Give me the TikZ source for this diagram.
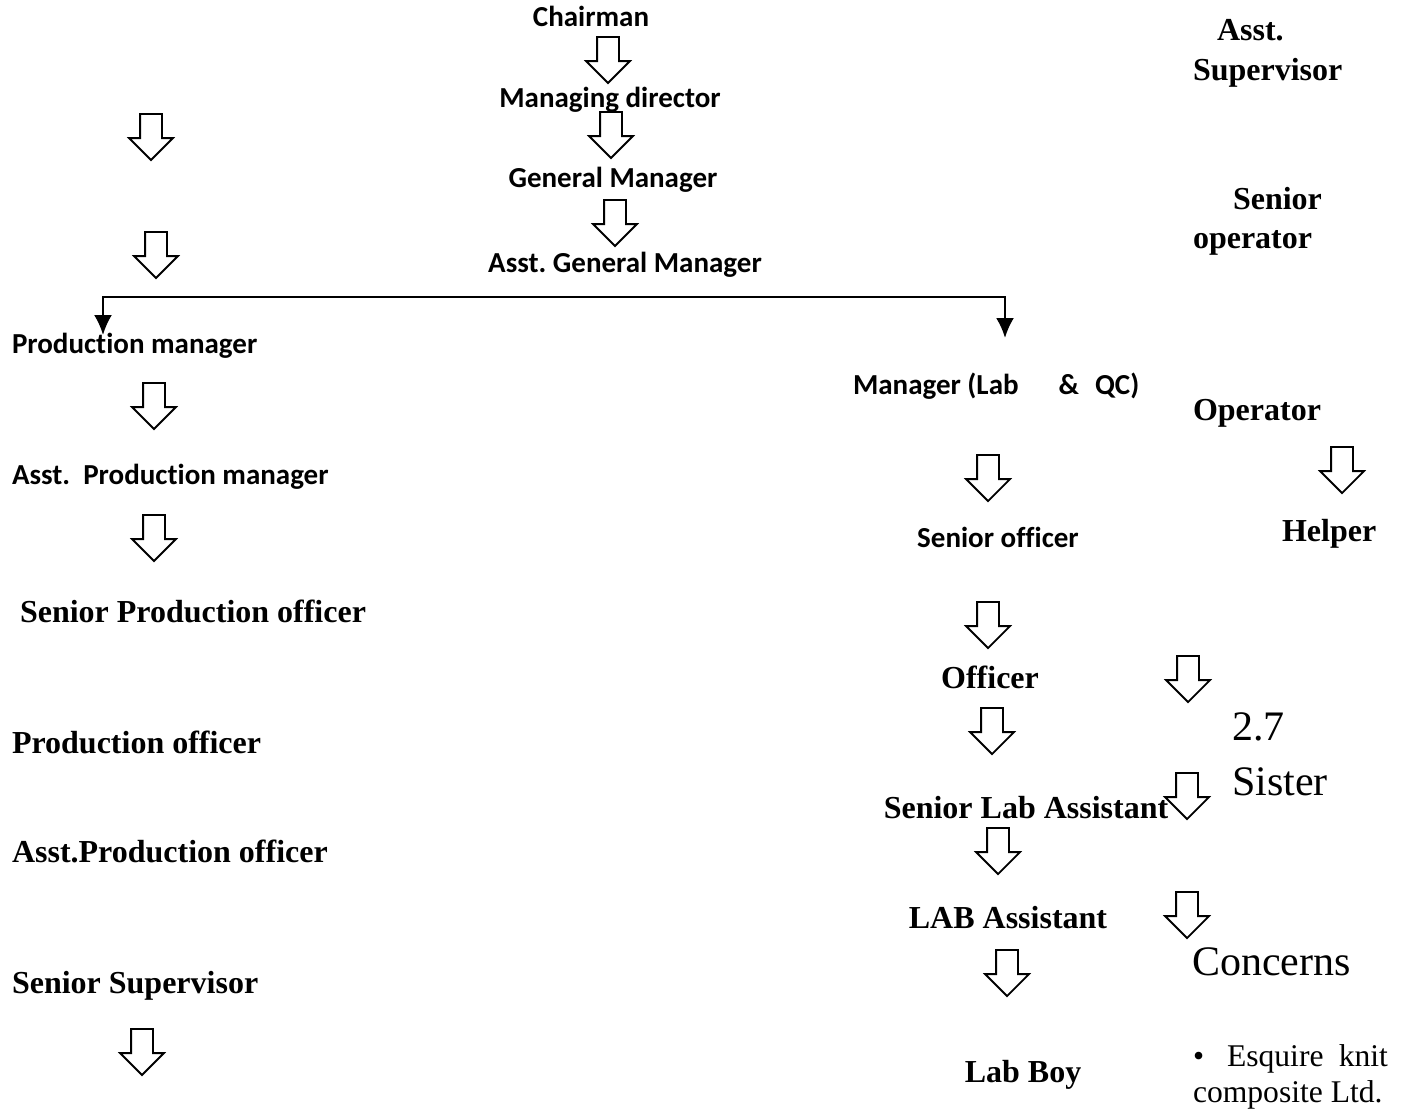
\documentclass[tikz,border=0pt]{standalone}
\usepackage{fontspec}
\setmainfont{Liberation Serif}
\newfontfamily\calfont[Ligatures={NoCommon,NoContextual}]{Carlito}
\usetikzlibrary{arrows.meta,positioning,shapes.arrows}
\frenchspacing

\begin{document}
\begin{tikzpicture}[
        x=0.5pt, y=-0.5pt,
        every node/.style={inner sep=0pt, outer sep=0pt},
        calib/.style={font=\calfont\bfseries\fontsize{14.5}{17}\selectfont},
        tbold/.style={font=\bfseries\fontsize{16}{19}\selectfont},
        treg/.style={font=\fontsize{21}{25}\selectfont},
        tsmall/.style={font=\fontsize{15.8}{19}\selectfont},
        blockarrow/.style={draw, line width=0.9pt, single arrow, shape border rotate=270,
            inner sep=5pt, single arrow head extend=5.5pt, minimum height=23pt, anchor=tail},
        branch/.style={line width=1.2pt, {Latex[length=10pt,width=9pt]}-{Latex[length=10pt,width=9pt]}},
    ]
    \useasboundingbox (0,0) rectangle (1408,1110);
    % top of the chart
    \node[calib, anchor=base] (chair) at (591,26) {Chairman};
    \node[calib, anchor=base] (md) at (610,107) {Managing director};
    \node[calib, anchor=base] (gm) at (613,187) {General Manager};
    \node[calib, anchor=base] (agm) at (625,272) {Asst. General Manager};
    \node[blockarrow] (a1) at (608,37) {};
    \node[blockarrow] (a2) at (611,112) {};
    \node[blockarrow] (a3) at (615,200) {};

    % branch
    \coordinate (pmtip) at (103,335);
    \coordinate (bl) at (103,297);
    \coordinate (br) at (1005,297);
    \coordinate (qctip) at (1005,338);
    \draw[branch] (pmtip) -- (bl) -- (br) -- (qctip);

    % production side
    \node[blockarrow] (l1) at (151,114) {};
    \node[blockarrow] (l2) at (156,232) {};
    \node[calib, anchor=base west] (pm) at (12,353) {Production manager};
    \node[blockarrow] (l3) at (154,383) {};
    \node[calib, anchor=base west] (apm) at (12,484) {Asst.\ \ Production manager};
    \node[blockarrow] (l4) at (154,515) {};
    \node[tbold, anchor=base west] (spo) at (20,622) {Senior Production officer};
    \node[tbold, anchor=base west] (po) at (12,753) {Production officer};
    \node[tbold, anchor=base west] (apo) at (12,862) {Asst.Production officer};
    \node[tbold, anchor=base west] (ss) at (12,993) {Senior Supervisor};
    \node[blockarrow] (l5) at (142,1029) {};

    % lab side
    \node[calib, anchor=base west] (mgr) at (853,394) {Manager (Lab\hspace{20pt}\&\hspace{8pt}QC)};
    \node[blockarrow] (r1) at (988,455) {};
    \node[calib, anchor=base] (so) at (998,547) {Senior officer};
    \node[blockarrow] (r2) at (988,602) {};
    \node[tbold, anchor=base] (off) at (990,688) {Officer};
    \node[blockarrow] (r3) at (992,708) {};
    \node[tbold, anchor=base] (sla) at (1026,818) {Senior Lab Assistant};
    \node[blockarrow] (r4) at (998,828) {};
    \node[tbold, anchor=base] (la) at (1008,928) {LAB Assistant};
    \node[blockarrow] (r5) at (1007,950) {};
    \node[tbold, anchor=base] (boy) at (1023,1082) {Lab Boy};

    % right margin
    \node[tbold, anchor=base west] (asst) at (1217,40) {Asst.};
    \node[tbold, anchor=base west] (supv) at (1193,80) {Supervisor};
    \node[tbold, anchor=base west] (sen) at (1233,209) {Senior};
    \node[tbold, anchor=base west] (opr) at (1193,248) {operator};
    \node[tbold, anchor=base west] (oper) at (1193,420) {Operator};
    \node[blockarrow] (h1) at (1342,447) {};
    \node[tbold, anchor=base west] (help) at (1282,541) {Helper};
    \node[blockarrow] (s1) at (1188,656) {};
    \node[treg, anchor=base west] (num) at (1232,740) {2.7};
    \node[treg, anchor=base west] (sis) at (1232,795) {Sister};
    \node[blockarrow] (s2) at (1187,773) {};
    \node[blockarrow] (s3) at (1187,892) {};
    \node[treg, anchor=base west] (conc) at (1192,975) {Concerns};
    \node[tsmall, anchor=base west] (dot) at (1193,1066) {\textbullet};
    \node[tsmall, anchor=base west] (esq) at (1227,1066) {\makebox[80.5pt][s]{Esquire knit}};
    \node[tsmall, anchor=base west] (comp) at (1193,1102) {composite Ltd.};
\end{tikzpicture}
\end{document}
